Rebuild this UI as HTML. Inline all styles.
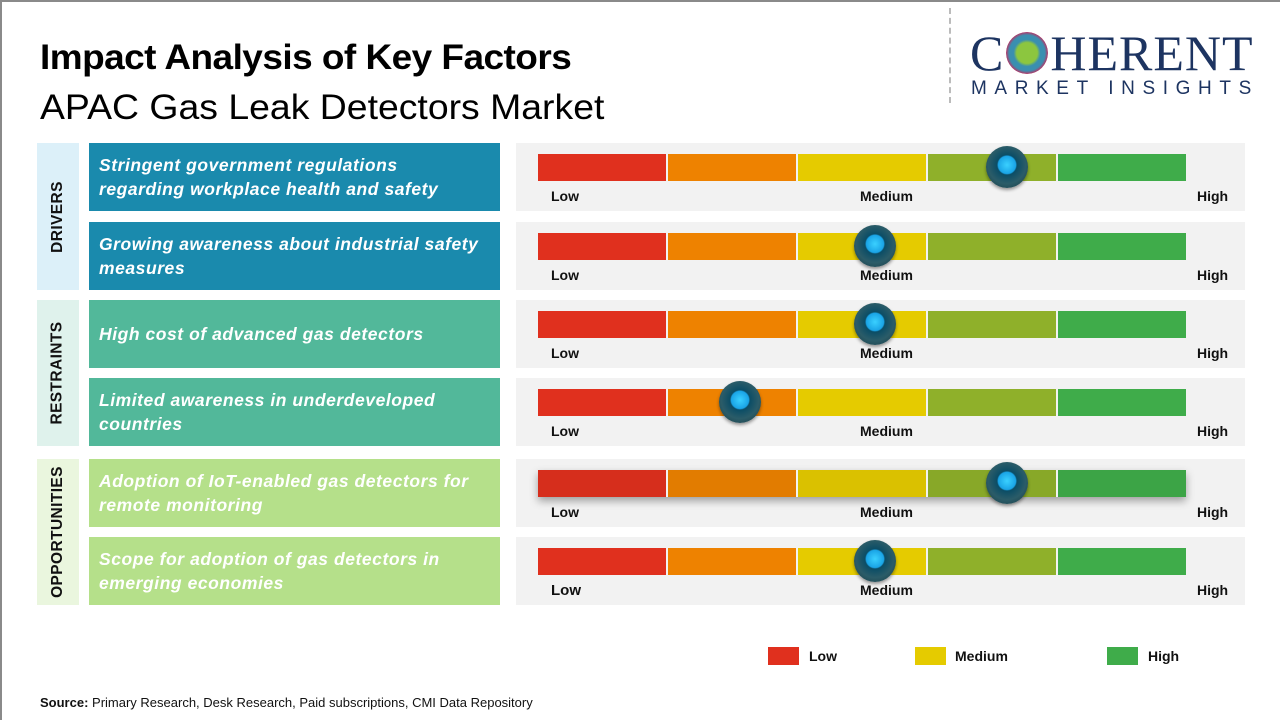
<!DOCTYPE html>
<html><head><meta charset="utf-8"><style>
*{margin:0;padding:0;box-sizing:border-box}
body{width:1280px;height:720px;position:relative;background:#fff;font-family:"Liberation Sans","DejaVu Sans",sans-serif;overflow:hidden}
.frame{position:absolute;left:0;top:0;width:1280px;height:720px;border-top:2px solid #8a8a8a;border-left:2px solid #8a8a8a}
.a{position:absolute}
.t1{left:40px;top:38px;font-size:35px;font-weight:bold;color:#000;letter-spacing:-0.5px;transform-origin:0 0;transform:scaleX(1.056)}
.t2{left:40px;top:88px;font-size:35px;color:#000;transform-origin:0 0;transform:scaleX(1.068)}
.cat{left:37px;width:42px;display:flex;align-items:center;justify-content:center}
.cat span{transform:rotate(-90deg);white-space:nowrap;font-weight:bold;font-size:15.5px;color:#111;letter-spacing:0.4px}
.box{left:89px;width:411px;height:68px;color:#fff;font-weight:bold;font-style:italic;font-size:17.5px;line-height:24px;padding-left:10px;display:flex;align-items:center;letter-spacing:0.55px}
.pan{left:516px;width:729px;height:68px;background:#f2f2f2}
.bar{position:absolute;left:22px;top:11px;height:27px;width:648px;display:flex}
.bar div{flex:1;margin-right:2px}
.bar div:last-child{margin-right:0}
.lb{position:absolute;top:45px;font-size:14px;font-weight:bold;color:#111}
.knob{position:absolute;width:42px;height:42px;border-radius:50%;top:3px;background:radial-gradient(circle at 50% 45%,#3ad0ff 0,#1aa4e6 28%,#0b4d66 32%,#2b5c68 60%,#163840 100%);box-shadow:0 2px 3px rgba(0,0,0,.4)}
.src{left:40px;top:695px;font-size:13px;color:#111}
.lg{top:647px;width:31px;height:18px}
.lt{top:648px;font-size:14px;font-weight:bold;color:#111}
</style></head><body>
<div class="frame"></div>
<div class="a" style="left:949px;top:8px;height:95px;border-left:2px dashed #bbb"></div>
<div class="a t1">Impact Analysis of Key Factors</div>
<div class="a t2">APAC Gas Leak Detectors Market</div>
<div class="a" style="left:970px;top:28px;font-family:'Liberation Serif',serif;font-size:50px;color:#1d3461;letter-spacing:1px;line-height:50px">C<span style="display:inline-block;width:42px;height:42px;border-radius:50%;background:radial-gradient(circle,#8cc63f 0,#8cc63f 35%,#3a8fb0 45%,#3a8fb0 60%,#b03a6a 70%,transparent 72%);vertical-align:-4px;margin:0 2px"></span>HERENT</div>
<div class="a" style="left:971px;top:78px;font-size:19px;color:#1d3461;letter-spacing:7.6px">MARKET INSIGHTS</div>

<div class="a cat" style="top:143px;height:147px;background:#dcf0f9"><span>DRIVERS</span></div>
<div class="a cat" style="top:300px;height:146px;background:#dff2ec"><span>RESTRAINTS</span></div>
<div class="a cat" style="top:459px;height:146px;background:#eaf6de"><span>OPPORTUNITIES</span></div>

<div class="a box" style="top:143px;background:#1a8aad">Stringent government regulations<br>regarding workplace health and safety</div>
<div class="a box" style="top:222px;background:#1a8aad">Growing awareness about industrial safety<br>measures</div>
<div class="a box" style="top:300px;background:#52b89a">High cost of advanced gas detectors</div>
<div class="a box" style="top:378px;background:#52b89a">Limited awareness in underdeveloped<br>countries</div>
<div class="a box" style="top:459px;background:#b5e08a">Adoption of IoT-enabled gas detectors for<br>remote monitoring</div>
<div class="a box" style="top:537px;background:#b5e08a">Scope for adoption of gas detectors in<br>emerging economies</div>

<div class="a pan" style="top:143px"><div class="bar"><div style="background:#e0301e"></div><div style="background:#ee8200"></div><div style="background:#e5cb00"></div><div style="background:#8fb02a"></div><div style="background:#3fac4a"></div></div><span class="lb" style="left:35px">Low</span><span class="lb" style="left:344px">Medium</span><span class="lb" style="left:681px">High</span><div class="knob" style="left:470px"></div></div>
<div class="a pan" style="top:222px"><div class="bar"><div style="background:#e0301e"></div><div style="background:#ee8200"></div><div style="background:#e5cb00"></div><div style="background:#8fb02a"></div><div style="background:#3fac4a"></div></div><span class="lb" style="left:35px">Low</span><span class="lb" style="left:344px">Medium</span><span class="lb" style="left:681px">High</span><div class="knob" style="left:338px"></div></div>
<div class="a pan" style="top:300px"><div class="bar"><div style="background:#e0301e"></div><div style="background:#ee8200"></div><div style="background:#e5cb00"></div><div style="background:#8fb02a"></div><div style="background:#3fac4a"></div></div><span class="lb" style="left:35px">Low</span><span class="lb" style="left:344px">Medium</span><span class="lb" style="left:681px">High</span><div class="knob" style="left:338px"></div></div>
<div class="a pan" style="top:378px"><div class="bar"><div style="background:#e0301e"></div><div style="background:#ee8200"></div><div style="background:#e5cb00"></div><div style="background:#8fb02a"></div><div style="background:#3fac4a"></div></div><span class="lb" style="left:35px">Low</span><span class="lb" style="left:344px">Medium</span><span class="lb" style="left:681px">High</span><div class="knob" style="left:203px"></div></div>
<div class="a pan" style="top:459px"><div class="bar" style="box-shadow:0 4px 8px rgba(0,0,0,.35)"><div style="background:#d62e1c"></div><div style="background:#e27c00"></div><div style="background:#dac100"></div><div style="background:#88a828"></div><div style="background:#3ca446"></div></div><span class="lb" style="left:35px">Low</span><span class="lb" style="left:344px">Medium</span><span class="lb" style="left:681px">High</span><div class="knob" style="left:470px"></div></div>
<div class="a pan" style="top:537px"><div class="bar"><div style="background:#e0301e"></div><div style="background:#ee8200"></div><div style="background:#e5cb00"></div><div style="background:#8fb02a"></div><div style="background:#3fac4a"></div></div><span class="lb" style="left:35px;font-size:15px">Low</span><span class="lb" style="left:344px">Medium</span><span class="lb" style="left:681px">High</span><div class="knob" style="left:338px"></div></div>

<div class="a lg" style="left:768px;background:#e0301e"></div><div class="a lt" style="left:809px">Low</div>
<div class="a lg" style="left:915px;background:#e5cb00"></div><div class="a lt" style="left:955px">Medium</div>
<div class="a lg" style="left:1107px;background:#3fac4a"></div><div class="a lt" style="left:1148px">High</div>
<div class="a src"><b>Source:</b> Primary Research, Desk Research, Paid subscriptions, CMI Data Repository</div>
</body></html>
